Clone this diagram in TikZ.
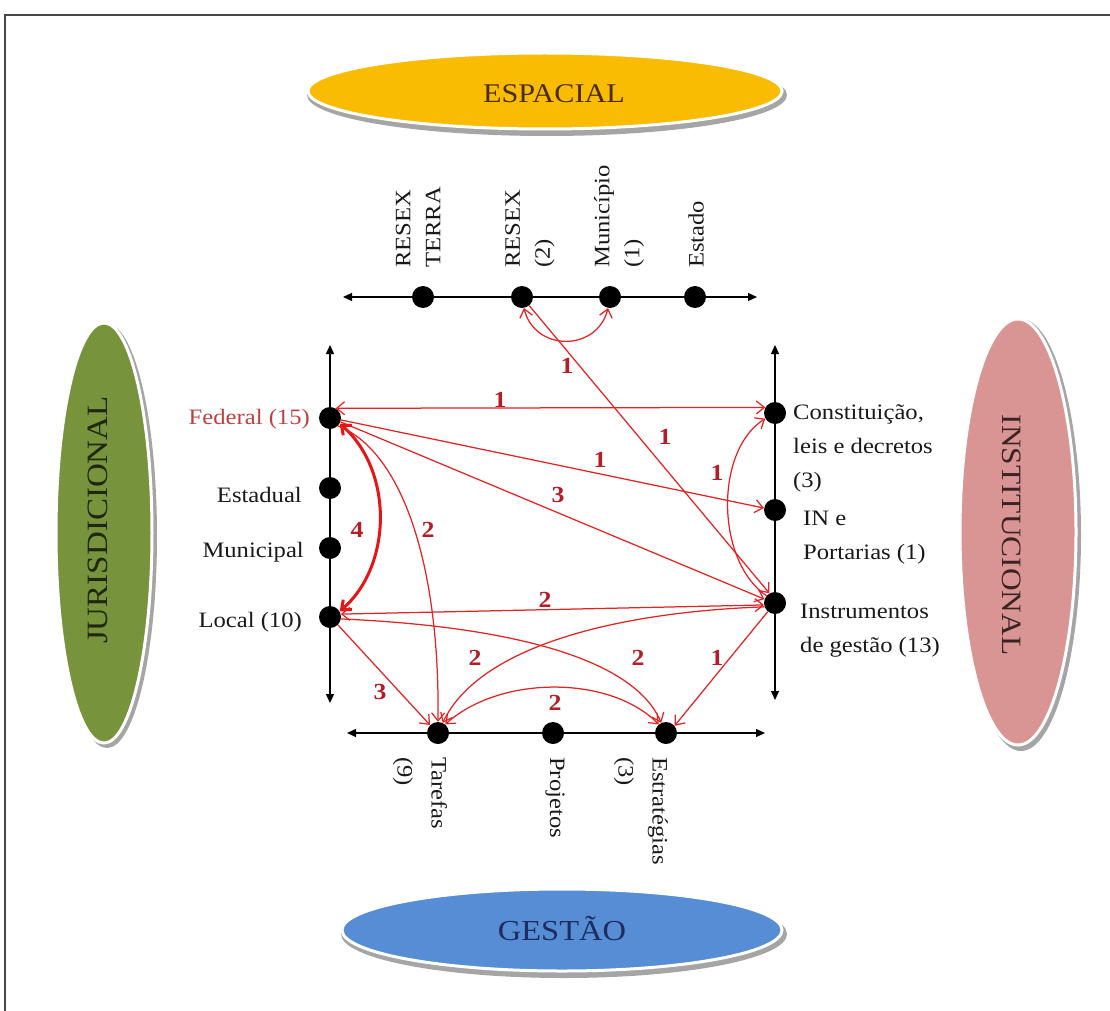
\documentclass[tikz,border=0pt]{standalone}
\usepackage{fontspec}
\setmainfont{Liberation Serif}[FakeStretch=1.12]
\usetikzlibrary{arrows.meta,shapes.geometric}

\definecolor{espfill}{RGB}{250,188,0}
\definecolor{gesfill}{RGB}{86,141,212}
\definecolor{jurfill}{RGB}{119,147,60}
\definecolor{insfill}{RGB}{217,149,148}
\definecolor{espink}{RGB}{74,44,18}
\definecolor{gesink}{RGB}{30,45,95}
\definecolor{jurink}{RGB}{30,40,15}
\definecolor{insink}{RGB}{60,35,35}
\definecolor{linkred}{RGB}{226,36,36}
\definecolor{boldred}{RGB}{232,20,20}
\definecolor{numred}{RGB}{178,30,38}
\definecolor{fedred}{RGB}{190,64,64}
\definecolor{rimgray}{RGB}{165,165,165}
\definecolor{framegray}{RGB}{70,70,70}

\begin{document}
\begin{tikzpicture}[x=1pt,y=1pt,
  axtip/.tip={Triangle[length=9pt,width=8pt]},
  redtip/.tip={Straight Barb[length=8pt,width=13pt]},
  dot/.style={circle,fill=black,inner sep=0pt,minimum size=22pt},
  axisline/.style={axtip-axtip,line width=1.3pt,black},
  link/.style={draw=linkred,line width=1.25pt},
  thicklink/.style={draw=boldred,line width=3pt},
  num/.style={text=numred,font=\fontsize{23}{23}\selectfont\bfseries,inner sep=0pt},
  lab/.style={font=\fontsize{22}{34}\selectfont,text=black!90,inner sep=0pt},
  toplab/.style={font=\fontsize{22}{30}\selectfont,text=black!90,inner sep=0pt,
    rotate=90,anchor=west,align=left},
  botlab/.style={font=\fontsize{22}{34}\selectfont,text=black!90,inner sep=0pt,
    rotate=-90,anchor=west,align=left},
  blob/.style={ellipse,draw=white,line width=3pt,inner sep=0pt},
  blobtext/.style={inner sep=0pt}
]
\useasboundingbox (0,0) rectangle (1110,-1011);

% outer frame (top and left edges)
\coordinate (ftr) at (1110,-15);
\coordinate (ftl) at (5,-15);
\coordinate (fbl) at (5,-1011);
\draw[framegray,line width=1.6pt] (ftr) -- (ftl) -- (fbl);

% ---- the four dimension ellipses ----
\fill[rimgray] (547,-95) ellipse [x radius=240, y radius=41];
\node[blob,fill=espfill,minimum width=474pt,minimum height=76pt] (esp) at (545,-91) {};
\node[blobtext,text=espink,font=\fontsize{27}{27}\selectfont] (esptext) at (554,-94) {ESPACIAL};

\fill[rimgray] (564,-934) ellipse [x radius=223, y radius=44];
\node[blob,fill=gesfill,minimum width=440pt,minimum height=82pt] (ges) at (562,-930) {};
\node[blobtext,text=gesink,font=\fontsize{29}{29}\selectfont] (gestext) at (562,-928) {GESTÃO};

\fill[rimgray] (107,-536) ellipse [x radius=50, y radius=212];
\node[blob,fill=jurfill,minimum width=96pt,minimum height=420pt] (jur) at (104,-533) {};
\node[blobtext,text=jurink,rotate=90,font=\fontsize{29.5}{29.5}\selectfont] (jurtext) at (98,-520) {JURISDICIONAL};

\fill[rimgray] (1021,-535) ellipse [x radius=60, y radius=216];
\node[blob,fill=insfill,minimum width=116pt,minimum height=426pt] (ins) at (1018,-532) {};
\node[blobtext,text=insink,rotate=-90,font=\fontsize{28}{28}\selectfont] (instext) at (1012,-535) {INSTITUCIONAL};

% ---- axes ----
\coordinate (ax1a) at (343,-297);  \coordinate (ax1b) at (757,-297);
\coordinate (ax2a) at (330,-345);  \coordinate (ax2b) at (330,-703);
\coordinate (ax3a) at (775,-345);  \coordinate (ax3b) at (775,-700);
\coordinate (ax4a) at (347,-733);  \coordinate (ax4b) at (765,-733);
\draw[axisline] (ax1a) -- (ax1b);
\draw[axisline] (ax2a) -- (ax2b);
\draw[axisline] (ax3a) -- (ax3b);
\draw[axisline] (ax4a) -- (ax4b);

% ---- points on the axes ----
\node[dot] (dterra)  at (423,-297) {};
\node[dot] (dresex)  at (522,-297) {};
\node[dot] (dmuni)   at (610,-297) {};
\node[dot] (destado) at (695,-297) {};

\node[dot] (dfed)       at (330,-418) {};
\node[dot] (destadual)  at (330,-488) {};
\node[dot] (dmunicipal) at (330,-548) {};
\node[dot] (dlocal)     at (330,-617) {};

\node[dot] (dconst) at (775,-413) {};
\node[dot] (din)    at (775,-510) {};
\node[dot] (dinstr) at (775,-603) {};

\node[dot] (dtaref)  at (438,-733) {};
\node[dot] (dproj)   at (553,-733) {};
\node[dot] (destrat) at (666,-733) {};

% ---- point labels ----
\node[toplab] (lterra)  at (418,-268) {RESEX\\TERRA};
\node[toplab] (lresex)  at (530,-268) {RESEX\\(2)};
\node[toplab] (lmuni)   at (619,-268) {Município\\(1)};
\node[toplab] (lestado) at (696,-268) {Estado};

\node[lab,anchor=east,text=fedred] (lfed) at (310,-419) {Federal (15)};
\node[lab,anchor=east] (lestadual)  at (302,-495) {Estadual};
\node[lab,anchor=east] (lmunicipal) at (304,-552) {Municipal};
\node[lab,anchor=east] (llocal)     at (302,-622) {Local (10)};

\node[lab,anchor=west,align=left] (lconst) at (793,-448) {Constituição,\\leis e decretos\\(3)};
\node[lab,anchor=west,align=left] (lin)    at (803,-538) {IN e\\Portarias (1)};
\node[lab,anchor=west,align=left] (linstr) at (800,-631) {Instrumentos\\de gestão (13)};

\node[botlab] (ltaref)  at (420,-757) {Tarefas\\(9)};
\node[botlab] (lproj)   at (555,-757) {Projetos};
\node[botlab] (lestrat) at (641,-757) {Estratégias\\(3)};

% ---- relations ----
\draw[link,redtip-redtip] (dresex.-80) .. controls (535,-352) and (597,-352) .. (dmuni.-100);
\draw[link,-redtip] (dresex.-50) -- (dinstr.120);
\draw[link,redtip-redtip] (dfed.60) -- (dconst.150);
\draw[link,-redtip] (dfed.-10) -- (din.170);
\draw[link,-redtip] (dfed.-20) -- (dinstr.160);
\draw[thicklink,redtip-redtip] (dfed.-30) .. controls (393,-470) and (393,-565) .. (dlocal.30);
\draw[link,-redtip] (dfed.-45) .. controls (400,-450) and (440,-560) .. (dtaref.north);
\draw[link,redtip-redtip] (dlocal.15) -- (dinstr.190);
\draw[link,-redtip] (dlocal.-10) .. controls (480,-625) and (630,-650) .. (destrat.115);
\draw[link,-redtip] (dinstr.200) .. controls (620,-612) and (480,-645) .. (dtaref.65);
\draw[link,redtip-redtip] (dtaref.50) .. controls (500,-675) and (610,-675) .. (destrat.130);
\draw[link,-redtip] (dlocal.-45) -- (dtaref.135);
\draw[link,-redtip] (dinstr.-130) -- (destrat.40);
\draw[link,-redtip] (dinstr.140) .. controls (715,-560) and (715,-450) .. (dconst.-150);

% ---- relation counts ----
\node[num] (c1)  at (567,-366) {1};
\node[num] (c2)  at (665,-437) {1};
\node[num] (c3)  at (500,-400) {1};
\node[num] (c4)  at (600,-460) {1};
\node[num] (c5)  at (558,-495) {3};
\node[num] (c6)  at (717,-473) {1};
\node[num] (c7)  at (357,-530) {4};
\node[num] (c8)  at (428,-530) {2};
\node[num] (c9)  at (545,-600) {2};
\node[num] (c10) at (475,-658) {2};
\node[num] (c11) at (638,-658) {2};
\node[num] (c12) at (717,-658) {1};
\node[num] (c13) at (380,-692) {3};
\node[num] (c14) at (555,-703) {2};
\end{tikzpicture}
\end{document}
